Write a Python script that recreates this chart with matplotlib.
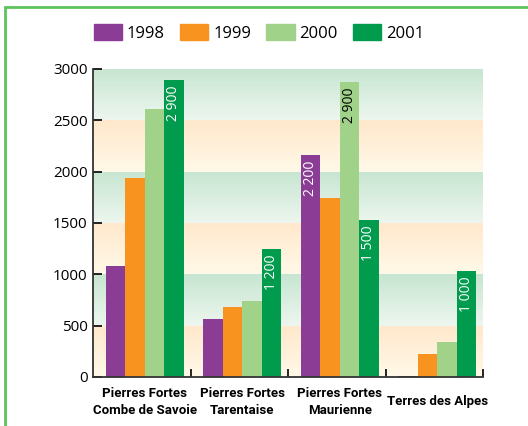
import numpy as np
import matplotlib
matplotlib.use("Agg")
import matplotlib.pyplot as plt
from matplotlib.patches import Patch, Rectangle

categories = ["Pierres Fortes\nCombe de Savoie", "Pierres Fortes\nTarentaise",
              "Pierres Fortes\nMaurienne", "Terres des Alpes"]
years = ["1998", "1999", "2000", "2001"]
v1998 = [1080, 565, 2160, 10]
v1999 = [1940, 680, 1740, 225]
v2000 = [2610, 740, 2870, 340]
v2001 = [2890, 1245, 1530, 1030]
lab1998 = [None, None, "2 200", None]
lab2000 = [None, None, "2 900", None]
lab2001 = ["2 900", "1 200", "1 500", "1 000"]
yticks = [0, 500, 1000, 1500, 2000, 2500, 3000]

colors = ["#8B3D96", "#F7931E", "#A0D28A", "#009B4C"]
label_colors = ["white", "black", "black", "white"]

plt.rcParams['font.family'] = ['Open Sans', 'DejaVu Sans']

fig = plt.figure(figsize=(5.28, 4.26), dpi=100)
ax = fig.add_axes([93 / 528, 1 - 377 / 426, 390 / 528, 308 / 426])

# frame around the figure
fig.patches.append(Rectangle((5 / 528, -0.1), 1.2, 1.1 - 7 / 426, transform=fig.transFigure,
                             fill=False, edgecolor="#5DC35B", linewidth=2.0))

# gradient bands in background
green_top, green_bot = np.array([0.78, 0.90, 0.82]), np.array([0.93, 0.965, 0.935])
orange_top, orange_bot = np.array([1.0, 0.91, 0.80]), np.array([1.0, 0.975, 0.91])
t = np.linspace(0, 1, 50)[:, None]
for i in range(len(yticks) - 1):
    lo, hi = yticks[i], yticks[i + 1]
    top, bot = (green_top, green_bot) if i % 2 == 1 else (orange_top, orange_bot)
    img = (top[None, :] * (1 - t) + bot[None, :] * t)[:, None, :]
    ax.imshow(img, extent=[0, 4, lo, hi], aspect="auto", origin="upper", zorder=0)

x = np.arange(len(categories)) + 0.53
w = 0.2
series = [v1998, v1999, v2000, v2001]
labels = [lab1998, None, lab2000, lab2001]
for k, vals in enumerate(series):
    xs = x + (k - 1.5) * w
    ax.bar(xs, vals, width=w, color=colors[k], zorder=2, label=years[k])
    if labels[k] is None:
        continue
    for xi, v, lab in zip(xs, vals, labels[k]):
        if lab:
            ax.text(xi, v - 50, lab, rotation=90, ha="center", va="top",
                    fontsize=10, color=label_colors[k], zorder=3)

ax.set_xlim(0, 4)
ax.set_ylim(0, 3000)
ax.set_yticks(yticks)
ax.tick_params(axis="y", direction="in", length=6.5, width=1.2, labelsize=11, pad=4)
ax.set_xticks([1, 2, 3, 4])
ax.set_xticklabels([])
ax.tick_params(axis="x", which="major", direction="in", length=6, width=1.2)
ax.set_xticks(x, minor=True)
ax.set_xticklabels(categories, minor=True, fontsize=9.5, fontweight="bold",
                   family=["Roboto", "DejaVu Sans"],
                   va="center", linespacing=1.45)
ax.tick_params(axis="x", which="minor", length=0, pad=18)
for s in ["top", "right"]:
    ax.spines[s].set_visible(False)
for s in ["left", "bottom"]:
    ax.spines[s].set_color("#333333")
    ax.spines[s].set_linewidth(1.3)

handles = [Patch(color=c) for c in colors]
fig.legend(handles, years, loc="center", bbox_to_anchor=(259 / 528, 1 - 33 / 426),
           ncol=4, frameon=False, fontsize=12, handlelength=1.7, handleheight=1.1,
           handletextpad=0.3, columnspacing=0.9)

fig.savefig("out.png", dpi=100)
